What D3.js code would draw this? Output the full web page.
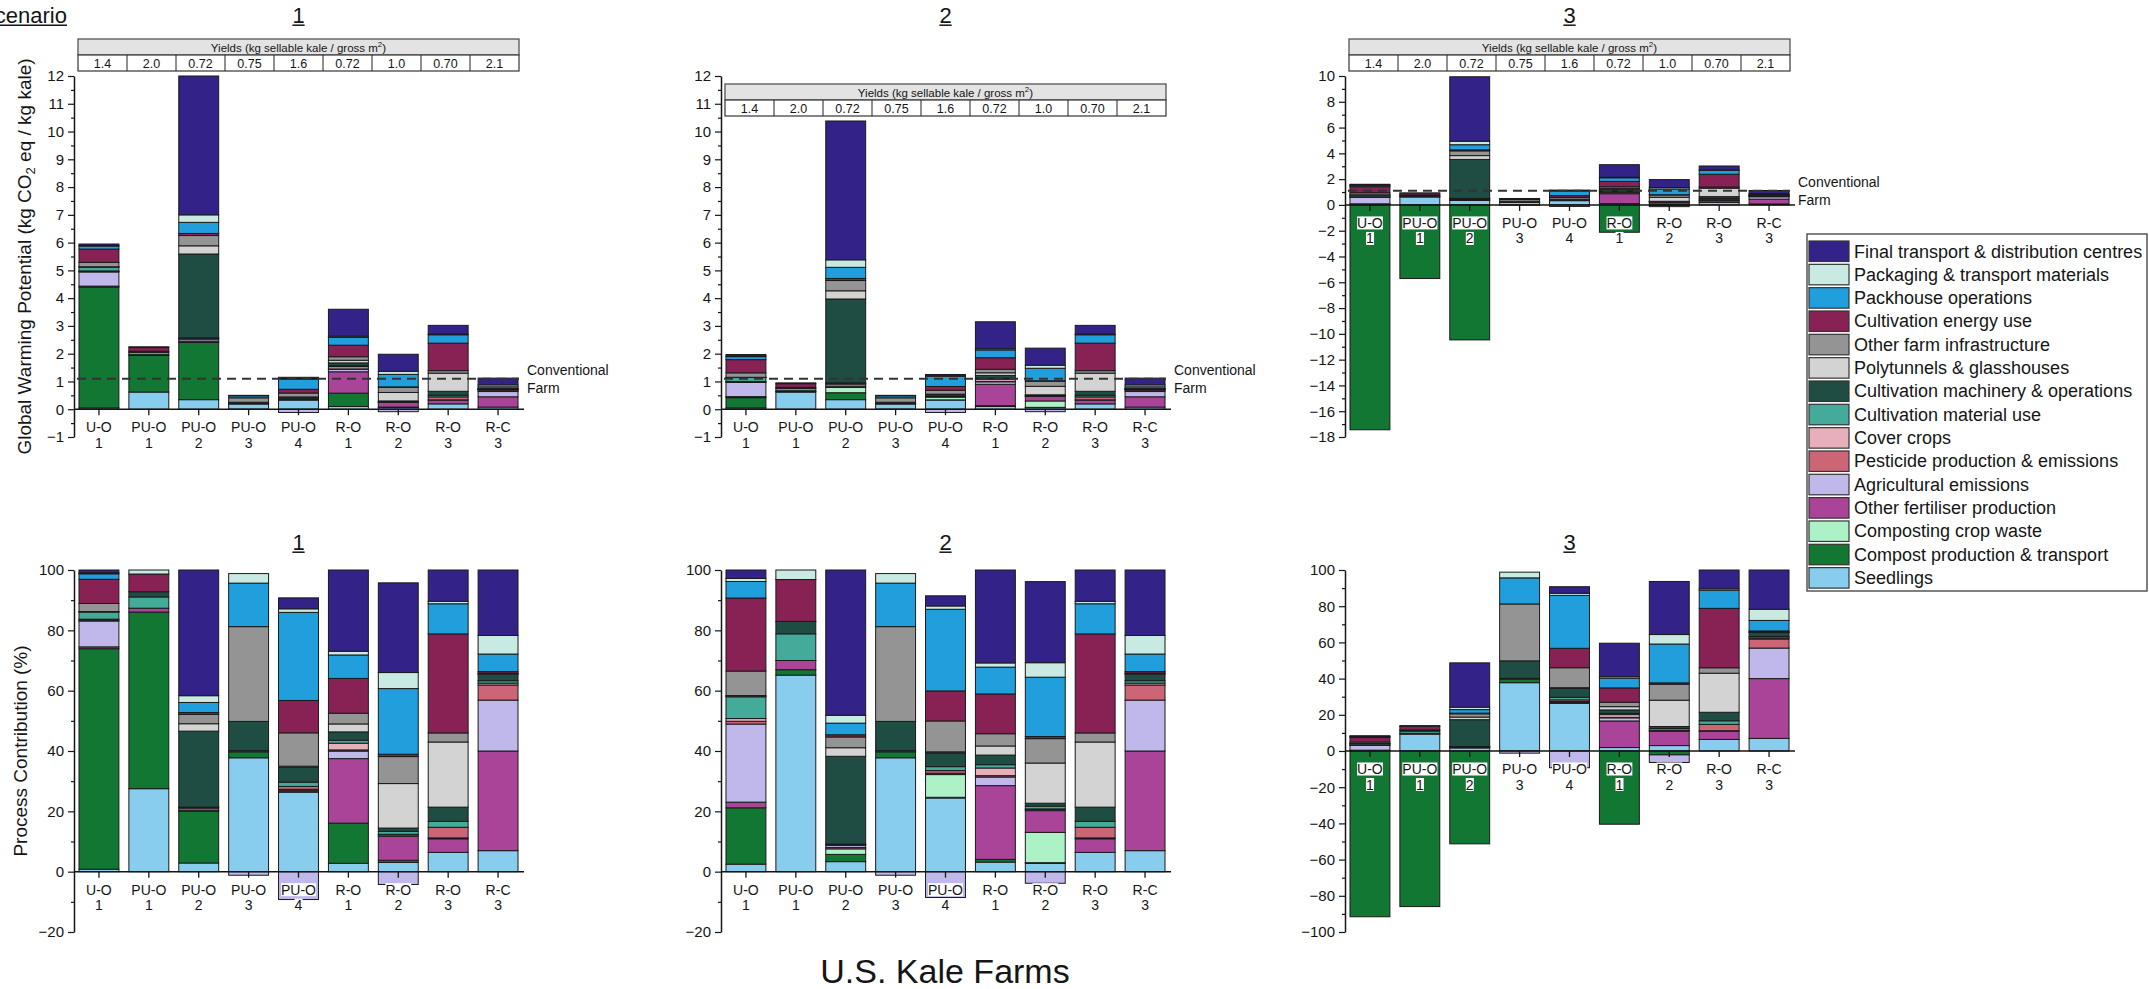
<!DOCTYPE html>
<html>
<head>
<meta charset="utf-8">
<script src="https://cdn.jsdelivr.net/npm/d3@7"></script>
<style>
  body { margin: 0; background: #fff; }
  svg { display: block; font-family: "Liberation Sans", Arial, Helvetica, sans-serif; }
</style>
</head>
<body>
<svg id="chart" width="2149" height="989"></svg>
<script>
// Process categories, stacked from the bottom of each bar upwards
const categories = [
  "Seedlings",
  "Compost production & transport",
  "Composting crop waste",
  "Other fertiliser production",
  "Agricultural emissions",
  "Pesticide production & emissions",
  "Cover crops",
  "Cultivation material use",
  "Cultivation machinery & operations",
  "Polytunnels & glasshouses",
  "Other farm infrastructure",
  "Cultivation energy use",
  "Packhouse operations",
  "Packaging & transport materials",
  "Final transport & distribution centres"
];
const colors = [
  "#88CCEE", "#117733", "#ADF2C6", "#AA4499", "#C0B8EA",
  "#CC6677", "#E6AFB9", "#44AA99", "#1F4D44", "#D3D3D3",
  "#949494", "#882255", "#209FDC", "#C8EAE2", "#332288"
];
const farms = ["U-O 1", "PU-O 1", "PU-O 2", "PU-O 3", "PU-O 4", "R-O 1", "R-O 2", "R-O 3", "R-C 3"];
const yields = ["1.4", "2.0", "0.72", "0.75", "1.6", "0.72", "1.0", "0.70", "2.1"];
const conventionalFarm = 1.1;

// kg CO2 eq / kg kale — one row per farm, one column per category
const scenario1 = [
  [0.049, 4.348, 0, 0.037, 0.510, 0.018, 0.018, 0.142, 0.004, 0.004, 0.160, 0.477, 0.108, 0.020, 0.055],
  [0.619, 1.317, 0, 0.029, 0, 0, 0, 0.084, 0.039, 0, 0, 0.132, 0, 0.030, 0],
  [0.345, 2.060, 0, 0.050, 0.070, 0.030, 0, 0.015, 3.020, 0.295, 0.370, 0.075, 0.400, 0.270, 5.000],
  [0.191, 0.010, 0, 0.002, -0.006, 0, 0, 0, 0.049, 0, 0.159, 0, 0.073, 0.016, 0],
  [0.334, 0.006, 0, 0.006, -0.117, 0.012, 0, 0.018, 0.062, 0.005, 0.140, 0.136, 0.370, 0.015, 0.046],
  [0.100, 0.479, 0, 0.770, 0.090, 0.014, 0.080, 0.035, 0.100, 0.095, 0.128, 0.415, 0.280, 0.044, 0.970],
  [0.063, 0.015, 0, 0.165, -0.088, 0.010, 0.003, 0.021, 0.022, 0.305, 0.185, 0.016, 0.450, 0.110, 0.615],
  [0.193, 0, 0, 0.136, 0.009, 0.106, 0, 0.060, 0.142, 0.652, 0.091, 0.991, 0.302, 0.024, 0.314],
  [0.078, 0, 0, 0.370, 0.189, 0.056, 0.007, 0.009, 0.024, 0.002, 0.002, 0.006, 0.065, 0.069, 0.243]
];
const scenario2 = [
  [0.049, 0.368, 0, 0.037, 0.510, 0.018, 0.018, 0.142, 0.004, 0.004, 0.160, 0.477, 0.108, 0.020, 0.055],
  [0.619, 0.017, 0, 0.029, 0, 0, 0, 0.084, 0.039, 0, 0, 0.132, 0, 0.030, 0],
  [0.345, 0.250, 0.190, 0.050, 0.070, 0.030, 0, 0.015, 3.020, 0.295, 0.370, 0.075, 0.400, 0.270, 5.000],
  [0.191, 0.010, 0, 0.002, -0.006, 0, 0, 0, 0.049, 0, 0.159, 0, 0.073, 0.016, 0],
  [0.334, 0.003, 0.103, 0.006, -0.117, 0.012, 0, 0.018, 0.062, 0.005, 0.140, 0.136, 0.370, 0.015, 0.046],
  [0.100, 0.028, 0, 0.770, 0.090, 0.014, 0.080, 0.035, 0.100, 0.095, 0.128, 0.415, 0.280, 0.044, 0.970],
  [0.063, 0.005, 0.230, 0.165, -0.088, 0.010, 0.003, 0.021, 0.022, 0.305, 0.185, 0.016, 0.450, 0.110, 0.615],
  [0.193, 0, 0, 0.136, 0.009, 0.106, 0, 0.060, 0.142, 0.652, 0.091, 0.991, 0.302, 0.024, 0.314],
  [0.078, 0, 0, 0.370, 0.189, 0.056, 0.007, 0.009, 0.024, 0.002, 0.002, 0.006, 0.065, 0.069, 0.243]
];
const scenario3 = [
  [0.049, -17.44, 0, 0.037, 0.510, 0.018, 0.018, 0.142, 0.004, 0.004, 0.160, 0.477, 0.108, 0.020, 0.055],
  [0.619, -5.71, 0, 0.029, 0, 0, 0, 0.084, 0.039, 0, 0, 0.132, 0, 0.030, 0],
  [0.345, -10.47, 0, 0.050, 0.070, 0.030, 0, 0.015, 3.020, 0.295, 0.370, 0.075, 0.400, 0.270, 5.000],
  [0.191, 0.010, 0, 0.002, -0.006, 0, 0, 0, 0.049, 0, 0.159, 0, 0.073, 0.016, 0],
  [0.334, 0.006, 0, 0.006, -0.117, 0.012, 0, 0.018, 0.062, 0.005, 0.140, 0.136, 0.370, 0.015, 0.046],
  [0.100, -2.12, 0, 0.770, 0.090, 0.014, 0.080, 0.035, 0.100, 0.095, 0.128, 0.415, 0.280, 0.044, 0.970],
  [0.063, -0.045, 0, 0.165, -0.088, 0.010, 0.003, 0.021, 0.022, 0.305, 0.185, 0.016, 0.450, 0.110, 0.615],
  [0.193, 0, 0, 0.136, 0.009, 0.106, 0, 0.060, 0.142, 0.652, 0.091, 0.991, 0.302, 0.024, 0.314],
  [0.078, 0, 0, 0.370, 0.189, 0.056, 0.007, 0.009, 0.024, 0.002, 0.002, 0.006, 0.065, 0.069, 0.243]
];

const svg = d3.select("#chart");
const ink = "#151515";
const columns = [74, 721, 1345];        // y-axis position of each scenario column
const plotWidth = 449;
const topRange = [437, 76];
const bottomRange = [932, 570];

const panels = [
  { data: scenario1, name: "1", col: 0, row: "top", domain: [-1, 12], major: 1, minor: 0.5, tableY: 39 },
  { data: scenario2, name: "2", col: 1, row: "top", domain: [-1, 12], major: 1, minor: 0.5, tableY: 84 },
  { data: scenario3, name: "3", col: 2, row: "top", domain: [-18, 10], major: 2, minor: 1, tableY: 39 },
  { data: scenario1, name: "1", col: 0, row: "bottom", domain: [-20, 100], major: 20, minor: 10, percent: true },
  { data: scenario2, name: "2", col: 1, row: "bottom", domain: [-20, 100], major: 20, minor: 10, percent: true },
  { data: scenario3, name: "3", col: 2, row: "bottom", domain: [-100, 100], major: 20, minor: 10, percent: true }
];

const fmt = d => (d < 0 ? "\u2212" + Math.abs(d) : String(d));

function underlinedText(g, x, y, text, size, anchor) {
  const t = g.append("text")
    .attr("x", x).attr("y", y)
    .attr("text-anchor", anchor)
    .attr("font-size", size)
    .attr("fill", ink)
    .text(text);
  const bb = t.node().getBBox();
  g.append("line")
    .attr("x1", bb.x).attr("x2", bb.x + bb.width)
    .attr("y1", y + 2.2).attr("y2", y + 2.2)
    .attr("stroke", ink).attr("stroke-width", 1.5);
}

function yieldTable(g, x0, y0, w) {
  const h = 16;
  g.append("rect").attr("x", x0).attr("y", y0).attr("width", w).attr("height", h)
    .attr("fill", "#e3e3e3").attr("stroke", "#555").attr("stroke-width", 1.3);
  const head = g.append("text")
    .attr("x", x0 + w / 2).attr("y", y0 + h / 2 + 0.5)
    .attr("text-anchor", "middle").attr("dominant-baseline", "central")
    .attr("font-size", 11.5).attr("fill", ink);
  head.append("tspan").text("Yields (kg sellable kale / gross m");
  head.append("tspan").attr("font-size", 8).attr("dy", -4).text("2");
  head.append("tspan").attr("dy", 4).text(")");
  g.append("rect").attr("x", x0).attr("y", y0 + h).attr("width", w).attr("height", h)
    .attr("fill", "#fff").attr("stroke", "#444").attr("stroke-width", 1.3);
  const cell = w / yields.length;
  yields.forEach((v, i) => {
    if (i > 0) {
      g.append("line").attr("x1", x0 + i * cell).attr("x2", x0 + i * cell)
        .attr("y1", y0 + h).attr("y2", y0 + 2 * h)
        .attr("stroke", "#222").attr("stroke-width", 1);
    }
    g.append("text")
      .attr("x", x0 + (i + 0.5) * cell).attr("y", y0 + 1.5 * h + 0.5)
      .attr("text-anchor", "middle").attr("dominant-baseline", "central")
      .attr("font-size", 12.5).attr("fill", ink).text(v);
  });
}

function drawPanel(p) {
  const ax = columns[p.col];
  const g = svg.append("g");
  const x = d3.scaleBand().domain(farms).range([ax, ax + plotWidth])
    .paddingInner(0.2).paddingOuter(0.1);
  const y = d3.scaleLinear().domain(p.domain).range(p.row === "top" ? topRange : bottomRange);

  const rows = p.data.map((vals, i) => {
    const total = d3.sum(vals, v => Math.abs(v));
    const o = { farm: farms[i] };
    vals.forEach((v, j) => { o[j] = p.percent ? v / total * 100 : v; });
    return o;
  });
  const series = d3.stack()
    .keys(d3.range(categories.length))
    .offset(d3.stackOffsetDiverging)(rows);

  g.append("g").selectAll("g").data(series).join("g")
    .attr("fill", s => colors[s.key])
    .selectAll("rect")
    .data(s => s.filter(d => d[1] !== d[0]))
    .join("rect")
    .attr("x", d => x(d.data.farm))
    .attr("width", x.bandwidth())
    .attr("y", d => y(Math.max(d[0], d[1])))
    .attr("height", d => Math.abs(y(d[0]) - y(d[1])))
    .attr("stroke", "#1a1a1a").attr("stroke-width", 1);

  const y0 = y(0);

  // conventional farm reference
  if (!p.percent) {
    const yc = y(conventionalFarm);
    g.append("line")
      .attr("x1", ax + 3).attr("x2", ax + 445)
      .attr("y1", yc).attr("y2", yc)
      .attr("stroke", "#333").attr("stroke-width", 2)
      .attr("stroke-dasharray", "9,6");
    g.append("text").attr("x", ax + 453).attr("y", yc - 9)
      .attr("dominant-baseline", "central").attr("font-size", 14).attr("fill", ink)
      .text("Conventional");
    g.append("text").attr("x", ax + 453).attr("y", yc + 9)
      .attr("dominant-baseline", "central").attr("font-size", 14).attr("fill", ink)
      .text("Farm");
    yieldTable(g, ax + 4, p.tableY, 441);
  }

  // y axis
  const eps = 1e-9;
  const majors = d3.range(p.domain[0], p.domain[1] + eps, p.major);
  const minors = d3.range(p.domain[0], p.domain[1] + eps, p.minor)
    .filter(v => !majors.some(m => Math.abs(m - v) < eps));
  const yAxis = g.append("g").attr("transform", `translate(${ax},0)`)
    .call(d3.axisLeft(y).tickValues(majors).tickSize(6).tickSizeOuter(0).tickPadding(4).tickFormat(fmt));
  yAxis.selectAll("text").attr("font-size", 15).attr("fill", ink).attr("font-family", null);
  yAxis.selectAll("line").attr("stroke", ink).attr("stroke-width", 1.2);
  yAxis.select(".domain").attr("stroke", ink).attr("stroke-width", 1.5);
  const yMinor = g.append("g").attr("transform", `translate(${ax},0)`)
    .call(d3.axisLeft(y).tickValues(minors).tickSize(3).tickFormat(""));
  yMinor.select(".domain").remove();
  yMinor.selectAll("line").attr("stroke", ink).attr("stroke-width", 1.2);

  // x axis at zero with two-line farm labels
  g.append("line").attr("x1", ax).attr("x2", ax + plotWidth + 1)
    .attr("y1", y0).attr("y2", y0)
    .attr("stroke", ink).attr("stroke-width", 1.5);
  farms.forEach(f => {
    const cx = x(f) + x.bandwidth() / 2;
    g.append("line").attr("x1", cx).attr("x2", cx).attr("y1", y0).attr("y2", y0 + 6)
      .attr("stroke", ink).attr("stroke-width", 1.3);
    f.split(" ").forEach((part, k) => {
      const lg = g.append("g");
      const t = lg.append("text")
        .attr("x", cx).attr("y", y0 + 18 + k * 15.5)
        .attr("text-anchor", "middle").attr("dominant-baseline", "central")
        .attr("font-size", 14).attr("fill", ink).text(part);
      const bb = t.node().getBBox();
      lg.insert("rect", "text")
        .attr("x", bb.x).attr("y", bb.y + 1.5)
        .attr("width", bb.width).attr("height", bb.height - 3)
        .attr("fill", "#fff");
    });
  });

  // scenario number
  const ty = p.row === "top" ? 23 : 550;
  underlinedText(g, ax + 224.5, ty, p.name, 22, "middle");
}

panels.forEach(drawPanel);

// scenario heading
underlinedText(svg, 67, 23, "Scenario", 22, "end");

// y-axis titles
const gwpTitle = svg.append("text")
  .attr("transform", `translate(31,${(topRange[0] + topRange[1]) / 2}) rotate(-90)`)
  .attr("text-anchor", "middle").attr("font-size", 19).attr("fill", ink);
gwpTitle.append("tspan").text("Global Warming Potential (kg CO");
gwpTitle.append("tspan").attr("font-size", 13).attr("dy", 4).text("2");
gwpTitle.append("tspan").attr("dy", -4).text(" eq / kg kale)");

svg.append("text")
  .attr("transform", `translate(27,${(bottomRange[0] + bottomRange[1]) / 2}) rotate(-90)`)
  .attr("text-anchor", "middle").attr("font-size", 19).attr("fill", ink)
  .text("Process Contribution (%)");

// legend
const legend = svg.append("g");
legend.append("rect").attr("x", 1807).attr("y", 234).attr("width", 340).attr("height", 357)
  .attr("fill", "#fff").attr("stroke", "#555").attr("stroke-width", 1.5);
const legendOrder = d3.range(categories.length).reverse();
legendOrder.forEach((c, i) => {
  const ly = 241 + i * 23.33;
  legend.append("rect").attr("x", 1809).attr("y", ly).attr("width", 40).attr("height", 20.5)
    .attr("fill", colors[c]).attr("stroke", "#333").attr("stroke-width", 1.2);
  legend.append("text").attr("x", 1854).attr("y", ly + 10.5)
    .attr("dominant-baseline", "central").attr("font-size", 18).attr("fill", ink)
    .text(categories[c]);
});

// overall x title
svg.append("text").attr("x", 945).attr("y", 983)
  .attr("text-anchor", "middle").attr("font-size", 34).attr("fill", ink)
  .text("U.S. Kale Farms");
</script>
</body>
</html>
